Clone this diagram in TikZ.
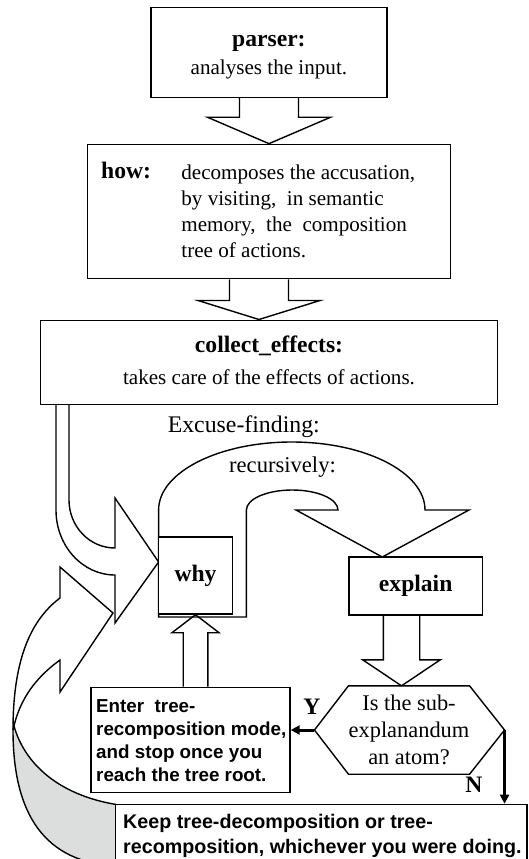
\documentclass[tikz,border=0pt]{standalone}
\usepackage{fontspec}
\setmainfont{Liberation Serif}
\newfontfamily\sansbold{Liberation Sans}
\usetikzlibrary{arrows.meta,calc}

\definecolor{fold}{RGB}{220,221,221}

\tikzset{
  frame/.style={draw, line width=1.4pt, fill=white, inner sep=0pt},
  outline/.style={draw, line width=1.4pt, line join=miter},
  oneline/.style={inner sep=0pt, anchor=mid, yshift=-4.5pt},
  title/.style={oneline, font=\fontsize{23.6}{28}\selectfont\bfseries},
  prose/.style={font=\fontsize{21.1}{26.1}\selectfont, inner sep=0pt},
  instr/.style={font=\sansbold\bfseries\fontsize{18.8}{22.8}\selectfont, inner sep=0pt, align=left, anchor=west},
  instrwide/.style={font=\sansbold\bfseries\fontsize{19.7}{25}\selectfont, inner sep=0pt, align=left, anchor=west},
  branch/.style={line width=3pt, -{Triangle[length=9pt,width=9pt]}},
}

% hollow block arrows: start anchor, tip, shaft half width, head half width, head length
\newcommand\blockdown[5]{%
  \draw[outline] let \p1=(#1), \p2=(#2) in
    (\x2-#3pt,\y1) -- (\x2-#3pt,\y2+#5pt) -- (\x2-#4pt,\y2+#5pt) -- (\p2)
    -- (\x2+#4pt,\y2+#5pt) -- (\x2+#3pt,\y2+#5pt) -- (\x2+#3pt,\y1);}
\newcommand\blockup[5]{%
  \draw[outline] let \p1=(#1), \p2=(#2) in
    (\x2-#3pt,\y1) -- (\x2-#3pt,\y2-#5pt) -- (\x2-#4pt,\y2-#5pt) -- (\p2)
    -- (\x2+#4pt,\y2-#5pt) -- (\x2+#3pt,\y2-#5pt) -- (\x2+#3pt,\y1);}

\begin{document}
\begin{tikzpicture}[x=1pt,y=-1pt]
\useasboundingbox (0,0) rectangle (529,859);

% back face of the returning ribbon
\path[fill=fold, draw, line width=1.4pt] (14,726) .. controls (25,765) and (60,795) .. (115.7,804.4)
  -- (115.7,866) .. controls (45,862) and (13,815) .. (13,730) -- cycle;
% returning ribbon: outer edge and head
\draw[outline] (13,730) .. controls (13,665) and (28,622) .. (60,598) -- (60,567) -- (113,613)
  -- (60,692) -- (60,660) .. controls (35,678) and (20,700) .. (14,726);

% bent arrow from collect_effects into why
\draw[outline] (56,404.6) -- (56,510) arc[start angle=180, end angle=90, x radius=59, y radius=65]
  -- (115,623) -- (158.6,562) -- (115,498) -- (115,548)
  arc[start angle=90, end angle=180, x radius=46, y radius=48] -- (69,404.6);

% recursive arrow from why over to explain
\draw[outline] (158.6,617) -- (158.6,510) arc[start angle=180, end angle=360, x radius=133.2, y radius=68]
  -- (469,510) -- (382.3,557) -- (296,510) -- (338,510)
  arc[start angle=0, end angle=-180, x radius=45.8, y radius=20] -- (246.4,617) -- cycle;

% boxes
\node[frame, minimum width=236.2, minimum height=89.8] (parser) at (268.9,52.3) {};
\node[frame, minimum width=362.7, minimum height=134.3] (how) at (269,211.5) {};
\node[frame, minimum width=457.1, minimum height=84.4] (collect) at (269,362.4) {};
\node[frame, minimum width=73.9, minimum height=77, font=\fontsize{23.6}{28}\selectfont\bfseries] (why) at (195.5,575.5) {\raisebox{-3pt}{why}};
\node[frame, minimum width=133.5, minimum height=58, font=\fontsize{23.6}{28}\selectfont\bfseries] (explain) at (415.7,586) {\raisebox{-3pt}{explain}};
\node[frame, minimum width=199, minimum height=105.2] (enter) at (190.5,739.9) {};
\node[frame, minimum width=411.3, minimum height=61.6] (keep) at (321.35,835.2) {};

% decision hexagon
\node[minimum width=106, minimum height=88, inner sep=0pt, align=center,
      font=\fontsize{22.4}{27}\selectfont] (atom) at (409,730) {Is the sub-\\explanandum\\an atom?};
\coordinate (atomW) at ($(atom.west)+(-34,0)$);
\coordinate (atomE) at ($(atom.east)+(35,0)$);
\draw[outline] (atom.north west) -- (atom.north east) -- (atomE) -- (atom.south east)
  -- (atom.south west) -- (atomW) -- cycle;

% texts
\node[title] (parserhead) at (268.9,39.8) {parser:};
\node[prose, oneline] (parserbody) at (268.9,67.5) {analyses the input.};
\node[title, anchor=mid west] (howhead) at (101,172) {how:};
\node[prose, align=left, anchor=west] (howbody) at (181.2,211.2)
  {decomposes the accusation,\\by visiting,\ \ in semantic\\memory,\ \ the\ \ composition\\tree of actions.};
\node[title] (collecthead) at (269,345.5) {collect\_effects:};
\node[prose, oneline] (collectbody) at (269,377.6) {takes care of the effects of actions.};
\node[oneline, font=\fontsize{23.8}{28}\selectfont] (excuse) at (243.8,425.5) {Excuse-finding:};
\node[oneline, font=\fontsize{22.6}{28}\selectfont] (recur) at (282.5,465.3) {recursively:};
\node[instr] (entertext) at (96,740.5) {Enter\ \ tree-\\recomposition mode,\\and stop once you\\reach the tree root.};
\node[instrwide] (keeptext) at (123,835.5) {Keep tree-decomposition or tree-\\recomposition, whichever you were doing.};

% block arrows between boxes
\blockdown{parser.south}{how.north}{29.5}{61.5}{26.4}
\blockdown{how.south}{$(collect.north)+(-10,0)$}{29.5}{61}{19}
\blockdown{explain.south}{$(atom.north)+(-7.5,0)$}{18.2}{38.8}{26}
\blockup{enter.north}{why.south}{12.3}{23.5}{18}

% yes / no branches
\draw[branch] (atomW) -- (atomW -| enter.east);
\draw[branch] (atomE) -- (atomE |- keep.north);
\node[title] (ylabel) at (312,708) {Y};
\node[title] (nlabel) at (474,786) {N};
\end{tikzpicture}
\end{document}
